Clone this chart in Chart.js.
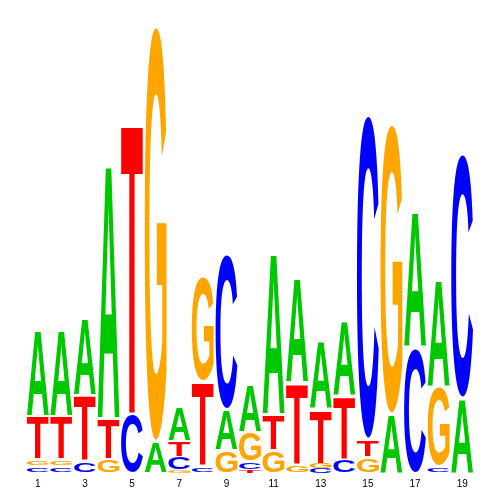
<!DOCTYPE html>
<html>
<head>
<meta charset="utf-8">
<script src="https://cdn.jsdelivr.net/npm/chart.js@4.4.1/dist/chart.umd.min.js"></script>
<style>
  html, body { margin: 0; padding: 0; background: #fff; }
  #wrap { width: 500px; height: 500px; }
</style>
</head>
<body>
<div id="wrap"><canvas id="logo"></canvas></div>
<script>
// positions of the motif
const positions = ['1','2','3','4','5','6','7','8','9','10','11','12','13','14','15','16','17','18','19'];

// letter heights (bits) per position
const bitsA = [0.38, 0.38, 0.34, 1.12, 0,    0.14, 0.15, 0,    0.18, 0.21, 0.71, 0.46, 0.30, 0.33, 0,    0.26, 0.60, 0.47, 0.33];
const bitsC = [0.03, 0.03, 0.05, 0,    0.26, 0,    0.06, 0.03, 0.68, 0.04, 0,    0,    0.02, 0.06, 1.42, 0,    0.55, 0.03, 1.07];
const bitsG = [0.03, 0.03, 0,    0.06, 0,    1.82, 0.01, 0.46, 0.10, 0.13, 0.10, 0.04, 0.02, 0,    0.07, 1.27, 0,    0.35, 0];
const bitsT = [0.19, 0.19, 0.29, 0.18, 1.28, 0,    0.07, 0.37, 0,    0.01, 0.16, 0.36, 0.24, 0.28, 0.08, 0,    0,    0,    0];

const shownTicks = ['1','3','5','7','9','11','13','15','17','19'];

const COLORS = { A: '#00c800', C: '#0000ff', G: '#ffa500', T: '#ff0000' };

// build 4 stack layers, smallest letter at bottom
const layerVals = [[], [], [], []];
const layerLetters = [[], [], [], []];
for (let i = 0; i < positions.length; i++) {
  const col = [
    { l: 'A', v: bitsA[i] },
    { l: 'C', v: bitsC[i] },
    { l: 'G', v: bitsG[i] },
    { l: 'T', v: bitsT[i] }
  ];
  col.sort((a, b) => a.v - b.v);
  for (let k = 0; k < 4; k++) {
    layerVals[k].push(col[k].v);
    layerLetters[k].push(col[k].l);
  }
}

const datasets = layerVals.map((vals, k) => ({
  label: 'layer ' + k,
  data: vals,
  letters: layerLetters[k],
  backgroundColor: 'rgba(0,0,0,0)',
  borderWidth: 0,
  categoryPercentage: 1,
  barPercentage: 0.93
}));

// draws each letter stretched into its bar box
const letterPlugin = {
  id: 'letters',
  afterDatasetsDraw(chart) {
    const ctx = chart.ctx;
    const font = 'bold 100px "Liberation Sans", Arial, sans-serif';
    chart.data.datasets.forEach((ds, di) => {
      const meta = chart.getDatasetMeta(di);
      meta.data.forEach((bar, i) => {
        const v = ds.data[i];
        if (!v) return;
        const letter = ds.letters[i];
        const p = bar.getProps(['x', 'y', 'base', 'width'], true);
        const left = p.x - p.width / 2;
        let top = Math.min(p.y, p.base);
        let h = Math.abs(p.base - p.y);
        const pad = h > 6 ? 1.2 : 0;
        top += pad;
        h -= pad * 2;
        if (h <= 0.3) return;
        ctx.save();
        ctx.font = font;
        const m = ctx.measureText(letter);
        const gw = m.actualBoundingBoxLeft + m.actualBoundingBoxRight;
        const gh = m.actualBoundingBoxAscent + m.actualBoundingBoxDescent;
        ctx.translate(left, top);
        ctx.scale(p.width / gw, h / gh);
        ctx.fillStyle = COLORS[letter];
        ctx.textBaseline = 'alphabetic';
        ctx.fillText(letter, m.actualBoundingBoxLeft, m.actualBoundingBoxAscent);
        ctx.restore();
      });
    });
  }
};

new Chart(document.getElementById('logo'), {
  type: 'bar',
  data: {
    labels: positions,
    datasets: datasets
  },
  options: {
    responsive: true,
    maintainAspectRatio: false,
    animation: false,
    layout: { padding: { left: 26, right: 26, top: 17, bottom: 13 } },
    plugins: {
      legend: { display: false },
      tooltip: { enabled: false }
    },
    scales: {
      x: {
        stacked: true,
        grid: { display: false },
        border: { display: false },
        ticks: {
          autoSkip: false,
          maxRotation: 0,
          padding: -3,
          color: '#000',
          font: { family: '"Liberation Sans", Arial, sans-serif', size: 10 },
          callback: function (val, idx) {
            const lab = this.getLabelForValue(val);
            return shownTicks.includes(lab) ? lab : '';
          }
        }
      },
      y: {
        stacked: true,
        display: false,
        min: 0,
        max: 2
      }
    }
  },
  plugins: [letterPlugin]
});
</script>
</body>
</html>
